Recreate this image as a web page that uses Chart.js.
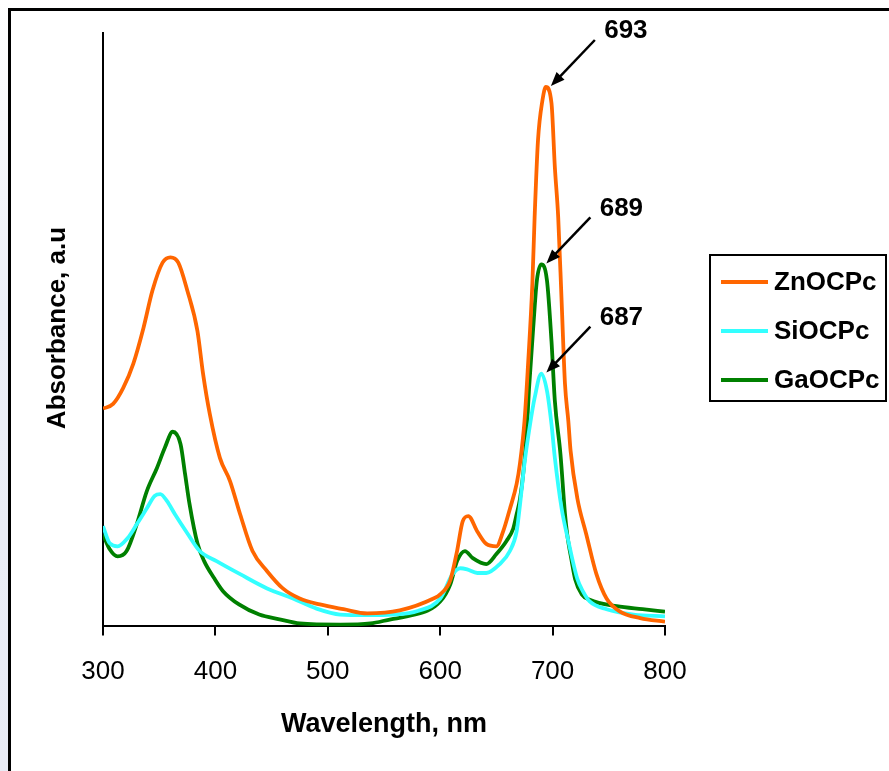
<!DOCTYPE html>
<html>
<head>
<meta charset="utf-8">
<script src="https://cdn.jsdelivr.net/npm/chart.js@4.4.1/dist/chart.umd.min.js"></script>
<style>
    body { margin: 0; background: #fff; }
    #wrap { position: relative; width: 889px; height: 771px; overflow: hidden;
        background: linear-gradient(to bottom, #ffffff 0%, #eceff7 40%, #e8ebf5 100%); }
    #frame { position: absolute; left: 8px; top: 8px; right: -10px; bottom: -10px;
        border-top: 3px solid #000; border-left: 3px solid #000; background: #fff; }
    canvas { position: absolute; left: 0; top: 0; }
</style>
</head>
<body>
<div id="wrap">
    <div id="frame"></div>
    <canvas id="diagram" width="889" height="771"></canvas>
</div>
<script>
// wavelength (nm) and absorbance (a.u.)
const znWl  = [300, 309, 318, 327, 336, 344, 353, 360, 367, 375, 384, 389, 395, 404, 413, 422, 433, 446, 460, 475, 493, 514, 535, 564, 594, 600, 609, 615, 620, 625, 633, 641, 650, 656, 662, 668, 671, 675, 678, 682, 684, 687, 691, 694, 699, 702, 705, 708, 711, 714, 716, 722, 730, 739, 748, 760, 778, 800];
const znAbs = [0.367, 0.375, 0.402, 0.443, 0.503, 0.566, 0.613, 0.622, 0.613, 0.566, 0.498, 0.426, 0.358, 0.284, 0.245, 0.189, 0.127, 0.093, 0.064, 0.047, 0.037, 0.029, 0.022, 0.027, 0.047, 0.054, 0.078, 0.127, 0.177, 0.186, 0.160, 0.139, 0.135, 0.160, 0.198, 0.240, 0.275, 0.346, 0.436, 0.578, 0.689, 0.819, 0.887, 0.909, 0.882, 0.774, 0.689, 0.549, 0.409, 0.346, 0.296, 0.216, 0.155, 0.088, 0.047, 0.025, 0.014, 0.008];

const siWl  = [300, 306, 313, 322, 330, 339, 346, 351, 357, 364, 375, 386, 401, 422, 446, 469, 490, 511, 535, 558, 580, 600, 611, 618, 624, 633, 641, 653, 662, 668, 671, 675, 680, 684, 690, 695, 699, 702, 708, 714, 722, 727, 733, 748, 772, 800];
const siAbs = [0.169, 0.140, 0.135, 0.149, 0.172, 0.199, 0.220, 0.223, 0.211, 0.189, 0.157, 0.127, 0.110, 0.088, 0.064, 0.047, 0.030, 0.020, 0.019, 0.020, 0.026, 0.047, 0.088, 0.098, 0.096, 0.090, 0.090, 0.105, 0.127, 0.160, 0.205, 0.275, 0.341, 0.385, 0.426, 0.397, 0.341, 0.284, 0.199, 0.144, 0.080, 0.059, 0.042, 0.029, 0.020, 0.017];

const gaWl  = [300, 306, 313, 321, 330, 339, 348, 355, 362, 369, 373, 377, 384, 390, 399, 407, 421, 439, 457, 475, 511, 538, 556, 571, 600, 609, 615, 622, 629, 641, 650, 659, 665, 668, 671, 674, 677, 679, 683, 686, 690, 695, 699, 702, 707, 711, 713, 717, 720, 726, 733, 757, 780, 800];
const gaAbs = [0.155, 0.130, 0.118, 0.127, 0.172, 0.228, 0.267, 0.301, 0.328, 0.307, 0.257, 0.206, 0.140, 0.110, 0.081, 0.059, 0.037, 0.020, 0.012, 0.005, 0.003, 0.005, 0.012, 0.017, 0.042, 0.071, 0.110, 0.127, 0.115, 0.105, 0.122, 0.144, 0.165, 0.189, 0.215, 0.260, 0.330, 0.400, 0.510, 0.583, 0.610, 0.583, 0.481, 0.380, 0.290, 0.190, 0.155, 0.110, 0.080, 0.054, 0.045, 0.034, 0.029, 0.025];

const seriesNames  = ['ZnOCPc', 'SiOCPc', 'GaOCPc'];
const seriesColors = ['#ff6600', '#33ffff', '#008000'];
const peakLabels   = ['693', '687', '689'];
const xTicks       = [300, 400, 500, 600, 700, 800];

const FONT = "'Liberation Sans', Arial, sans-serif";

window.onload = init;

function init() {
    createChart();
}

function toPoints(wl, abs) {
    return wl.map((w, i) => ({ x: w, y: abs[i] }));
}

// y title, peak arrows and the boxed legend
const extras = {
    id: 'extras',
    afterDraw(chart) {
        const ctx = chart.ctx;
        const xs = chart.scales.x;
        const ys = chart.scales.y;
        ctx.save();

        // y axis title
        ctx.fillStyle = '#000';
        ctx.font = 'bold 26px ' + FONT;
        ctx.textAlign = 'center';
        ctx.textBaseline = 'middle';
        ctx.translate(58, 328);
        ctx.rotate(-Math.PI / 2);
        ctx.fillText('Absorbance, a.u', 0, 0);
        ctx.setTransform(1, 0, 0, 1, 0, 0);

        // peak labels with arrows
        chart.data.datasets.forEach((ds, i) => {
            let top = ds.data[0];
            ds.data.forEach(p => { if (p.y > top.y) top = p; });
            const hx = xs.getPixelForValue(top.x) + 5;
            const hy = ys.getPixelForValue(top.y) - 1;
            const tx = hx + 44;
            const ty = hy - 46;
            const ang = Math.atan2(hy - ty, hx - tx);
            ctx.strokeStyle = '#000';
            ctx.lineWidth = 2.5;
            ctx.beginPath();
            ctx.moveTo(tx, ty);
            ctx.lineTo(hx - 10 * Math.cos(ang), hy - 10 * Math.sin(ang));
            ctx.stroke();
            ctx.beginPath();
            ctx.moveTo(hx, hy);
            ctx.lineTo(hx - 14 * Math.cos(ang) + 5.5 * Math.sin(ang), hy - 14 * Math.sin(ang) - 5.5 * Math.cos(ang));
            ctx.lineTo(hx - 14 * Math.cos(ang) - 5.5 * Math.sin(ang), hy - 14 * Math.sin(ang) + 5.5 * Math.cos(ang));
            ctx.closePath();
            ctx.fillStyle = '#000';
            ctx.fill();
            ctx.font = 'bold 26px ' + FONT;
            ctx.textAlign = 'center';
            ctx.fillText(peakLabels[i], tx + 31, ty - 9);
        });

        // legend
        ctx.lineWidth = 2;
        ctx.strokeStyle = '#000';
        ctx.strokeRect(710, 255, 176, 146);
        chart.data.datasets.forEach((ds, i) => {
            const y = 282 + i * 49;
            ctx.strokeStyle = ds.borderColor;
            ctx.lineWidth = 4;
            ctx.beginPath();
            ctx.moveTo(721, y);
            ctx.lineTo(768, y);
            ctx.stroke();
            ctx.fillStyle = '#000';
            ctx.font = 'bold 26px ' + FONT;
            ctx.textAlign = 'left';
            ctx.textBaseline = 'middle';
            ctx.fillText(ds.label, 774, y + 1);
        });
        ctx.restore();
    }
};

function createChart() {
    const ctx = document.getElementById('diagram').getContext('2d');
    const sets = [[znWl, znAbs], [siWl, siAbs], [gaWl, gaAbs]];

    new Chart(ctx, {
        type: 'line',
        data: {
            datasets: sets.map((s, i) => ({
                label: seriesNames[i],
                data: toPoints(s[0], s[1]),
                borderColor: seriesColors[i],
                borderWidth: 3.8,
                pointRadius: 0,
                cubicInterpolationMode: 'monotone',
                fill: false
            }))
        },
        options: {
            responsive: false,
            animation: false,
            devicePixelRatio: 1,
            layout: { padding: { left: 103, top: 33, right: 224, bottom: 30 } },
            plugins: {
                legend: { display: false },
                tooltip: { enabled: false }
            },
            scales: {
                x: {
                    type: 'linear',
                    min: 300,
                    max: 800,
                    afterBuildTicks: axis => { axis.ticks = xTicks.map(v => ({ value: v })); },
                    ticks: {
                        color: '#000',
                        padding: 21,
                        maxRotation: 0,
                        font: { family: FONT, size: 26 }
                    },
                    grid: {
                        drawOnChartArea: false,
                        drawTicks: true,
                        tickLength: 9,
                        color: '#000',
                        lineWidth: 2
                    },
                    border: { display: true, color: '#000', width: 2 },
                    title: {
                        display: true,
                        text: 'Wavelength, nm',
                        color: '#000',
                        padding: { top: 0, bottom: 0 },
                        font: { family: FONT, size: 27, weight: 'bold' }
                    }
                },
                y: {
                    min: 0,
                    max: 1,
                    ticks: { display: false },
                    grid: { display: false, drawTicks: false },
                    border: { display: true, color: '#000', width: 2 }
                }
            }
        },
        plugins: [extras]
    });
}
</script>
</body>
</html>
